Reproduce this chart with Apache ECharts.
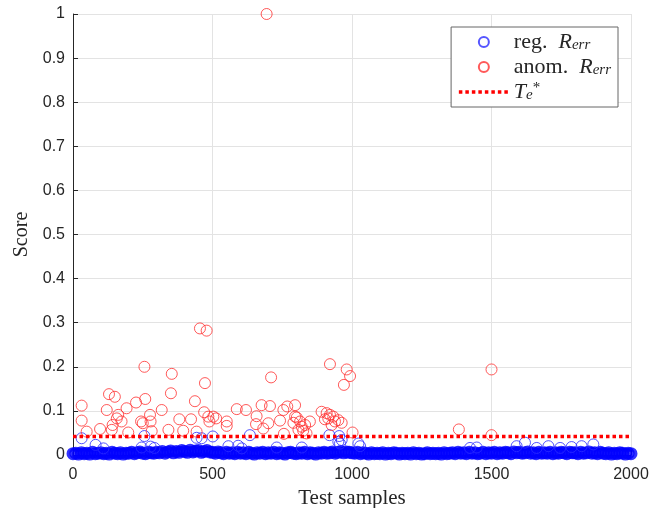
<!DOCTYPE html>
<html>
<head>
<meta charset="utf-8">
<title>Score</title>
<script src="https://cdn.jsdelivr.net/npm/echarts@6/dist/echarts.min.js"></script>
<style>
    html, body { margin: 0; padding: 0; background: #fff; }
    #chart1 { width: 662px; height: 508px; }
</style>
</head>
<body>
<div id="chart1"></div>
<script>
// 正常样本的得分带：每隔 bandStep 个样本取一个读数
const bandStep = 10;
const bandScores = [
    0.003, 0.004, 0.002, 0.005, 0.003, 0.004, 0.002, 0.006, 0.003, 0.004,
    0.005, 0.003, 0.004, 0.002, 0.006, 0.004, 0.003, 0.005, 0.002, 0.004,
    0.004, 0.006, 0.003, 0.005, 0.007, 0.004, 0.003, 0.006, 0.005, 0.004,
    0.006, 0.005, 0.008, 0.004, 0.007, 0.009, 0.005, 0.008, 0.006, 0.010,
    0.008, 0.006, 0.011, 0.007, 0.009, 0.010, 0.006, 0.008, 0.010, 0.007,
    0.006, 0.004, 0.007, 0.005, 0.003, 0.006, 0.004, 0.005, 0.003, 0.006,
    0.004, 0.005, 0.003, 0.006, 0.004, 0.002, 0.005, 0.004, 0.006, 0.003,
    0.005, 0.004, 0.006, 0.003, 0.005, 0.004, 0.002, 0.005, 0.006, 0.004,
    0.003, 0.005, 0.004, 0.006, 0.003, 0.005, 0.004, 0.002, 0.005, 0.004,
    0.006, 0.004, 0.005, 0.007, 0.004, 0.006, 0.008, 0.005, 0.007, 0.006,
    0.005, 0.004, 0.006, 0.003, 0.005, 0.004, 0.002, 0.005, 0.003, 0.004,
    0.003, 0.005, 0.002, 0.004, 0.003, 0.005, 0.004, 0.002, 0.004, 0.003,
    0.004, 0.002, 0.005, 0.003, 0.004, 0.002, 0.003, 0.005, 0.003, 0.004,
    0.003, 0.004, 0.002, 0.005, 0.003, 0.004, 0.005, 0.003, 0.006, 0.004,
    0.005, 0.003, 0.006, 0.004, 0.005, 0.003, 0.004, 0.006, 0.003, 0.005,
    0.004, 0.006, 0.003, 0.005, 0.004, 0.006, 0.005, 0.003, 0.007, 0.005,
    0.006, 0.004, 0.005, 0.007, 0.004, 0.005, 0.003, 0.006, 0.004, 0.005,
    0.004, 0.006, 0.003, 0.005, 0.004, 0.006, 0.005, 0.003, 0.006, 0.005,
    0.005, 0.003, 0.006, 0.004, 0.005, 0.007, 0.004, 0.005, 0.003, 0.006,
    0.004, 0.003, 0.005, 0.002, 0.004, 0.003, 0.005, 0.004, 0.002, 0.004,
    0.003
];

// 正常样本中偏高的点 [样本序号, 得分]
const regOutliers = [
    [31, 0.038], [81, 0.023], [109, 0.015], [246, 0.017], [256, 0.043],
    [278, 0.019], [292, 0.016], [443, 0.039], [461, 0.038], [501, 0.042],
    [557, 0.020], [592, 0.021], [605, 0.015], [634, 0.045], [730, 0.017],
    [820, 0.017], [919, 0.045], [951, 0.030], [954, 0.043], [957, 0.026],
    [963, 0.034], [1023, 0.026], [1029, 0.020], [1423, 0.016], [1447, 0.017],
    [1590, 0.020], [1620, 0.028], [1662, 0.016], [1704, 0.020], [1746, 0.016],
    [1787, 0.018], [1823, 0.020], [1865, 0.024]
];

// 异常样本 [样本序号, 得分]
const anomPoints = [
    [31, 0.112], [31, 0.078], [49, 0.053], [97, 0.059], [121, 0.102],
    [129, 0.138], [150, 0.132], [142, 0.068], [139, 0.057], [157, 0.083],
    [162, 0.091], [174, 0.076], [192, 0.106], [198, 0.051], [226, 0.119],
    [244, 0.076], [250, 0.072], [256, 0.200], [259, 0.127], [276, 0.091],
    [278, 0.076], [282, 0.054], [318, 0.102], [342, 0.057], [351, 0.140],
    [354, 0.184], [381, 0.081], [395, 0.055], [423, 0.081], [437, 0.122],
    [443, 0.053], [455, 0.287], [479, 0.282], [473, 0.163], [470, 0.097],
    [485, 0.087], [489, 0.076], [503, 0.087], [513, 0.083], [551, 0.076],
    [551, 0.066], [587, 0.104], [620, 0.102], [658, 0.088], [656, 0.070],
    [676, 0.113], [682, 0.060], [694, 1.000], [700, 0.072], [706, 0.111],
    [710, 0.176], [742, 0.078], [754, 0.102], [756, 0.048], [768, 0.110],
    [796, 0.113], [790, 0.073], [802, 0.085], [796, 0.087], [814, 0.076],
    [820, 0.064], [825, 0.055], [837, 0.049], [849, 0.076], [808, 0.057],
    [832, 0.068], [891, 0.098], [903, 0.081], [909, 0.095], [915, 0.083],
    [921, 0.091], [927, 0.068], [933, 0.087], [939, 0.076], [951, 0.079],
    [963, 0.073], [921, 0.206], [971, 0.159], [981, 0.194], [993, 0.179],
    [1002, 0.051], [1383, 0.058], [1500, 0.194], [1500, 0.045]
];

// 阈值 T_e*
const threshold = 0.042;
const sampleRange = [0, 2000];

(function () {
    let chart = echarts.init(document.querySelector("#chart1"));

    const axisColor = "#262626";
    const serif = "'Liberation Serif', 'DejaVu Serif', serif";
    const sans = "'Liberation Sans', Arial, sans-serif";

    const bandData = bandScores.map((v, i) => [i * bandStep, v]);
    const thresholdData = sampleRange.map(x => [x, threshold]);

    const thresholdLine = { color: "#ff0000", width: 3.5, type: [3.5, 3] };

    // 图例文字（下标用 rich 模拟）
    const legendText = {
        "reg.": "{t|reg.  }{i|R}{s|err}",
        "anom.": "{t|anom.  }{i|R}{s|err}",
        "Te": "{i|T}{s|e}{p|*}"
    };

    let option = {
        animation: false,
        grid: {
            left: 73,
            right: 31,
            top: 14,
            bottom: 53,
            outerBoundsMode: "none"
        },
        legend: {
            orient: "vertical",
            right: 44,
            top: 27,
            padding: [4, 7, 4, 6],
            itemGap: 3,
            itemWidth: 50,
            itemHeight: 10,
            itemTextGap: 5,
            backgroundColor: "#fff",
            borderColor: "#666",
            borderWidth: 1,
            selectedMode: false,
            data: [
                { name: "reg." },
                { name: "anom." },
                {
                    name: "Te",
                    itemStyle: { color: "transparent", borderColor: "transparent", opacity: 0 },
                    lineStyle: thresholdLine
                }
            ],
            formatter: name => legendText[name],
            textStyle: {
                color: axisColor,
                rich: {
                    t: { fontFamily: serif, fontSize: 22, lineHeight: 22 },
                    i: { fontFamily: serif, fontSize: 22, fontStyle: "italic", lineHeight: 22 },
                    s: { fontFamily: serif, fontSize: 15, fontStyle: "italic", lineHeight: 15, verticalAlign: "bottom" },
                    p: { fontFamily: serif, fontSize: 15, lineHeight: 14, verticalAlign: "top" }
                }
            }
        },
        xAxis: {
            type: "value",
            min: 0,
            max: 2000,
            interval: 500,
            name: "Test samples",
            nameLocation: "middle",
            nameGap: 28,
            nameTextStyle: { fontFamily: serif, fontSize: 21, color: axisColor },
            axisLine: { show: true, lineStyle: { color: axisColor, width: 1 } },
            axisTick: { show: true, inside: true, length: 5, lineStyle: { color: axisColor } },
            axisLabel: {
                margin: 12,
                fontFamily: sans,
                fontSize: 16,
                color: axisColor,
                formatter: v => String(v)
            },
            splitLine: { show: true, lineStyle: { color: "#e3e3e3", width: 1 } }
        },
        yAxis: {
            type: "value",
            min: 0,
            max: 1,
            interval: 0.1,
            name: "Score",
            nameLocation: "middle",
            nameRotate: 90,
            nameGap: 40,
            nameTextStyle: { fontFamily: serif, fontSize: 20, color: axisColor },
            axisLine: { show: true, lineStyle: { color: axisColor, width: 1 } },
            axisTick: { show: true, inside: true, length: 5, lineStyle: { color: axisColor } },
            axisLabel: {
                margin: 8,
                fontFamily: sans,
                fontSize: 16,
                color: axisColor,
                formatter: v => String(+v.toFixed(1))
            },
            splitLine: { show: true, lineStyle: { color: "#e3e3e3", width: 1 } }
        },
        series: [
            {
                // 密集的正常样本，描边加粗以连成实心带
                name: "reg. band",
                type: "scatter",
                symbol: "circle",
                symbolSize: 9,
                silent: true,
                itemStyle: { color: "transparent", borderColor: "#0000ff", borderWidth: 4 },
                data: bandData
            },
            {
                name: "reg.",
                type: "scatter",
                symbol: "circle",
                symbolSize: 11,
                silent: true,
                itemStyle: { color: "transparent", borderColor: "#2a2aff", borderWidth: 1 },
                data: regOutliers
            },
            {
                name: "anom.",
                type: "scatter",
                symbol: "circle",
                symbolSize: 11,
                silent: true,
                itemStyle: { color: "transparent", borderColor: "#ff3030", borderWidth: 1 },
                data: anomPoints
            },
            {
                name: "Te",
                type: "line",
                symbol: "none",
                silent: true,
                lineStyle: thresholdLine,
                data: thresholdData
            }
        ]
    };

    chart.setOption(option);

    window.addEventListener("resize", () => chart.resize());
})();
</script>
</body>
</html>
